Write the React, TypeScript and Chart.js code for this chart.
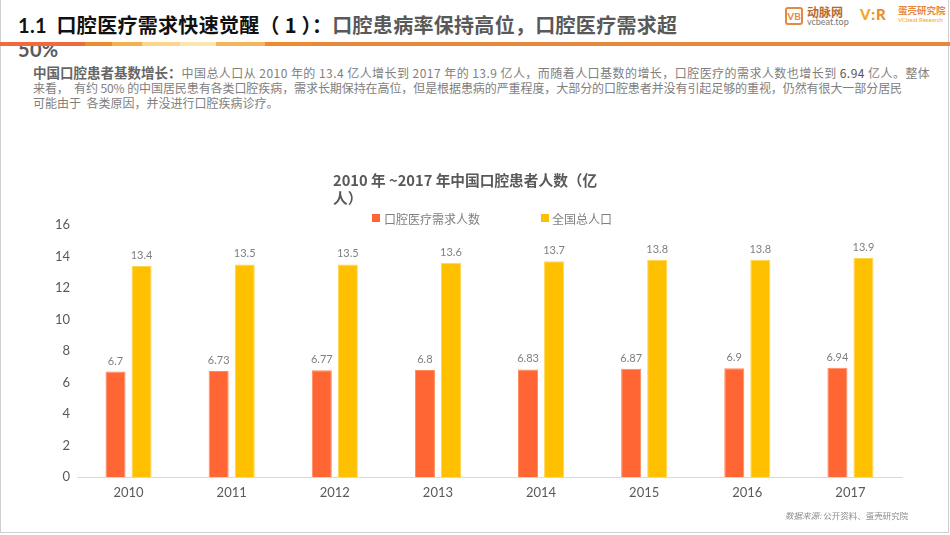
import React, { useEffect, useRef } from "react";
import { Chart, registerables } from "chart.js";

Chart.register(...registerables);

const years = ["2010", "2011", "2012", "2013", "2014", "2015", "2016", "2017"];
const demand = [6.7, 6.73, 6.77, 6.8, 6.83, 6.87, 6.9, 6.94];
const population = [13.4, 13.5, 13.5, 13.6, 13.7, 13.8, 13.8, 13.9];
const seriesNames = ["口腔医疗需求人数", "全国总人口"];
const yMax = 16;
const yStep = 2;

const ORANGE = "#FF6633";
const YELLOW = "#FFC000";
const NUM_FONT = "Lato, 'Noto Sans CJK SC', sans-serif";
const CJK_FONT = "'Noto Sans CJK SC', 'Noto Sans', sans-serif";

const valueLabels = {
  id: "valueLabels",
  afterDatasetsDraw(chart: any) {
    const ctx = chart.ctx;
    ctx.save();
    ctx.font = `11px ${NUM_FONT}`;
    ctx.fillStyle = "#7F7F7F";
    ctx.textAlign = "center";
    ctx.textBaseline = "bottom";
    chart.data.datasets.forEach((ds: any, i: number) => {
      const meta = chart.getDatasetMeta(i);
      meta.data.forEach((el: any, j: number) => {
        ctx.fillText(String(ds.data[j]), el.x, el.y - 5);
      });
    });
    ctx.restore();
  },
};

function ChartCanvas() {
  const ref = useRef<HTMLCanvasElement | null>(null);
  useEffect(() => {
    if (!ref.current) return;
    const chart = new Chart(ref.current, {
      type: "bar",
      data: {
        labels: years,
        datasets: [
          {
            label: seriesNames[0],
            data: demand,
            backgroundColor: ORANGE,
            borderColor: "#FF8A5C",
            borderWidth: 1,
            categoryPercentage: 0.505,
            barPercentage: 0.77,
          },
          {
            label: seriesNames[1],
            data: population,
            backgroundColor: YELLOW,
            borderColor: "#FFD54F",
            borderWidth: 1,
            categoryPercentage: 0.505,
            barPercentage: 0.77,
          },
        ],
      },
      options: {
        animation: false,
        responsive: false,
        maintainAspectRatio: false,
        layout: { padding: { left: 47, right: 48, top: 225, bottom: 28 } },
        plugins: {
          legend: { display: false },
          title: { display: false },
          tooltip: { enabled: false },
        },
        scales: {
          x: {
            grid: { display: false, drawTicks: false },
            border: { display: true, color: "#D9D9D9", width: 1 },
            ticks: {
              color: "#595959",
              font: { family: NUM_FONT, size: 13 },
              padding: 8,
            },
            afterFit: (s: any) => {
              s.height = 30;
            },
          },
          y: {
            min: 0,
            max: yMax,
            grid: { display: false, drawTicks: false },
            border: { display: false },
            ticks: {
              stepSize: yStep,
              color: "#595959",
              font: { family: NUM_FONT, size: 13 },
              padding: 7,
            },
            afterFit: (s: any) => {
              s.width = 30;
            },
          },
        },
      },
      plugins: [valueLabels],
    });
    return () => chart.destroy();
  }, []);
  return (
    <canvas
      ref={ref}
      width={950}
      height={535}
      style={{ position: "absolute", left: 0, top: 0, width: 950, height: 535 }}
    />
  );
}

const lineSegments: [number, number, string][] = [
  [0, 85, "#EE6A3F"],
  [85, 112, "#F08A2E"],
  [112, 142, "#F5B04E"],
  [142, 180, "#FAD58E"],
  [180, 216, "#FCE6B0"],
  [216, 265, "#F4B55A"],
  [265, 313, "#F08A2E"],
  [313, 950, "#E8883C"],
];

export default function App() {
  return (
    <div
      style={{
        position: "fixed",
        left: 0,
        top: 0,
        width: 950,
        height: 535,
        background: "#FFFFFF",
        overflow: "hidden",
        fontFamily: CJK_FONT,
      }}
    >
      {/* slide frame */}
      <div
        style={{
          position: "absolute",
          left: 0,
          top: 0,
          width: 947,
          height: 532,
          border: "1px solid #CFCFCF",
          borderTop: "none",
          boxSizing: "content-box",
        }}
      />
      {/* title */}
      <div
        style={{
          position: "absolute",
          left: 18,
          top: 13,
          fontSize: 20,
          lineHeight: "23px",
          fontWeight: 700,
          whiteSpace: "nowrap",
          letterSpacing: 0.3,
        }}
      >
        <span style={{ color: "#111111", fontFamily: NUM_FONT }}>1.1</span>
        <span style={{ color: "#111111" }}>&nbsp;&nbsp;口腔医疗需求快速觉醒（ 1 ）：</span>
        <span style={{ color: "#595959" }}>口腔患病率保持高位，口腔医疗需求超</span>
        <br />
        <span style={{ color: "#595959", fontFamily: NUM_FONT }}>50%</span>
      </div>
      {/* header line (drawn over the wrapped title) */}
      {lineSegments.map(([a, b, c], i) => (
        <div
          key={i}
          style={{ position: "absolute", left: a, top: 42, width: b - a, height: 4, background: c }}
        />
      ))}
      {/* logos */}
      <div
        style={{
          position: "absolute",
          left: 785,
          top: 7,
          width: 18,
          height: 18,
          border: "2px solid #E8883C",
          borderRadius: 3,
          boxSizing: "border-box",
          color: "#E8883C",
          fontSize: 10,
          fontWeight: 700,
          fontFamily: NUM_FONT,
          lineHeight: "14px",
          textAlign: "center",
        }}
      >
        VB
      </div>
      <div style={{ position: "absolute", left: 807, top: 5, fontSize: 12, fontWeight: 700, color: "#B86A2E", lineHeight: "13px" }}>
        动脉网
      </div>
      <div style={{ position: "absolute", left: 807, top: 17, fontSize: 9, color: "#777777", fontFamily: NUM_FONT, lineHeight: "10px" }}>
        vcbeat.top
      </div>
      <div style={{ position: "absolute", left: 860, top: 6, fontSize: 15, fontWeight: 900, fontFamily: NUM_FONT, lineHeight: "16px", letterSpacing: 1 }}>
        <span style={{ color: "#F5A623" }}>V</span>
        <span style={{ color: "#F08A2E" }}>:</span>
        <span style={{ color: "#F08A2E" }}>R</span>
      </div>
      <div style={{ position: "absolute", left: 898, top: 5, fontSize: 9.5, fontWeight: 700, color: "#E8883C", lineHeight: "11px" }}>
        蛋壳研究院
      </div>
      <div style={{ position: "absolute", left: 898, top: 16, fontSize: 6, color: "#F5A623", fontFamily: NUM_FONT, lineHeight: "7px", whiteSpace: "nowrap" }}>
        VCbeat Research
      </div>
      {/* body text */}
      <div
        style={{
          position: "absolute",
          left: 33,
          top: 65,
          fontSize: 12,
          lineHeight: "15px",
          color: "#808080",
          whiteSpace: "nowrap",
        }}
      >
        <div style={{ letterSpacing: 0.45 }}>
          <span style={{ fontWeight: 700, color: "#666666", fontSize: 13.5, letterSpacing: 0 }}>中国口腔患者基数增长：</span>
          中国总人口从 2010 年的 13.4 亿人增长到 2017 年的 13.9 亿人，而随着人口基数的增长，口腔医疗的需求人数也增长到
          <span style={{ color: "#555555" }}> 6.94 </span>亿人。整体
        </div>
        <div style={{ letterSpacing: -0.08 }}>来看，&nbsp; 有约 50% 的中国居民患有各类口腔疾病，需求长期保持在高位，但是根据患病的严重程度，大部分的口腔患者并没有引起足够的重视，仍然有很大一部分居民</div>
        <div>可能由于&nbsp; 各类原因，并没进行口腔疾病诊疗。</div>
      </div>
      <ChartCanvas />
      {/* chart title */}
      <div
        style={{
          position: "absolute",
          left: 333,
          top: 171,
          fontSize: 14.7,
          fontWeight: 700,
          lineHeight: "18px",
          color: "#595959",
          whiteSpace: "nowrap",
        }}
      >
        2010 年 ~2017 年中国口腔患者人数（亿
        <br />
        人）
      </div>
      {/* legend */}
      <div style={{ position: "absolute", left: 372, top: 214, width: 8, height: 8, background: ORANGE }} />
      <div style={{ position: "absolute", left: 384, top: 210, fontSize: 12, lineHeight: "17px", color: "#7F7F7F", whiteSpace: "nowrap" }}>
        {seriesNames[0]}
      </div>
      <div style={{ position: "absolute", left: 541, top: 214, width: 8, height: 8, background: YELLOW }} />
      <div style={{ position: "absolute", left: 552, top: 210, fontSize: 12, lineHeight: "17px", color: "#7F7F7F", whiteSpace: "nowrap" }}>
        {seriesNames[1]}
      </div>
      {/* source */}
      <div style={{ position: "absolute", left: 785, top: 510, fontSize: 8.5, lineHeight: "11px", color: "#8C8C8C", whiteSpace: "nowrap" }}>
        <span style={{ fontStyle: "italic" }}>数据来源:</span> 公开资料、蛋壳研究院
      </div>
    </div>
  );
}
